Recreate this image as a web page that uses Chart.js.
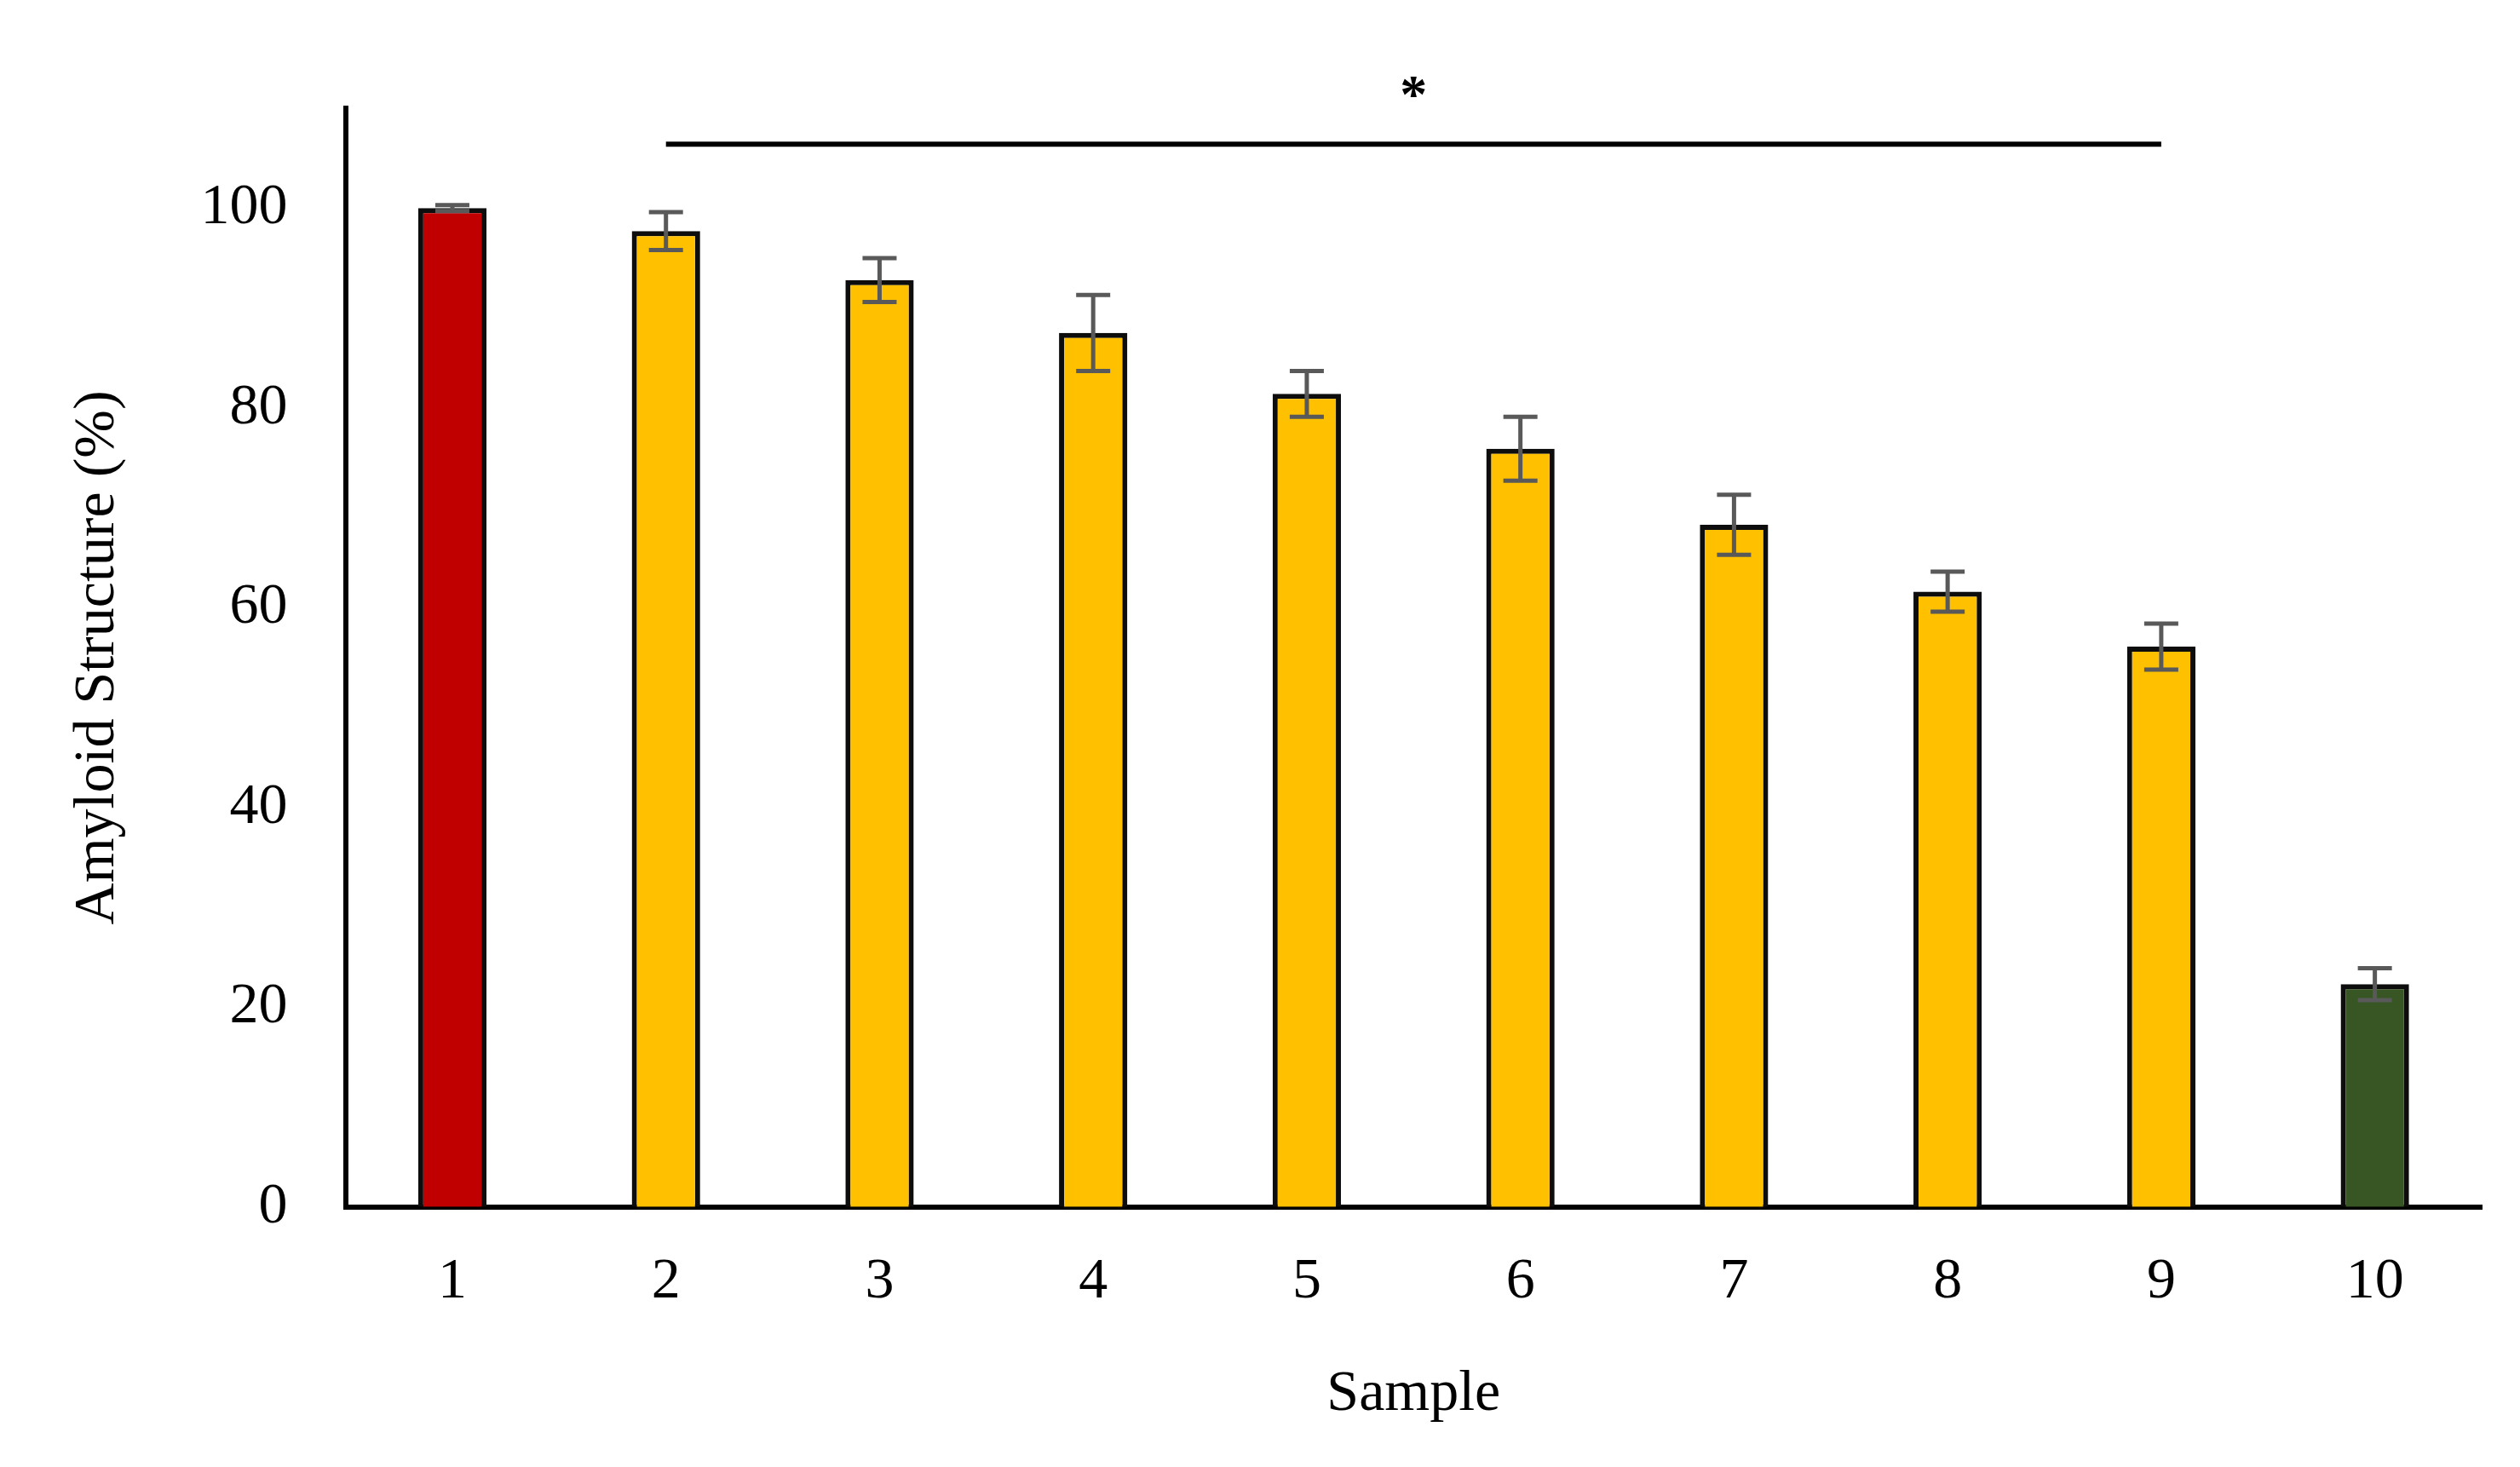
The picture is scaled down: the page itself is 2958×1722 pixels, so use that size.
<!DOCTYPE html>
<html>
<head>
<meta charset="utf-8">
<script src="https://cdn.jsdelivr.net/npm/chart.js@4"></script>
<style>
  html, body { margin: 0; padding: 0; background: #fff; }
  #wrap { width: 2958px; height: 1722px; }
</style>
</head>
<body>
<div id="wrap"><canvas id="myChart" width="2958" height="1722"></canvas></div>
<script>
const samples = ['1', '2', '3', '4', '5', '6', '7', '8', '9', '10'];
const amyloid = [100, 97.7, 92.8, 87.5, 81.4, 75.9, 68.3, 61.6, 56.1, 22.3];
const errors = [0.3, 1.9, 2.2, 3.8, 2.3, 3.2, 3.0, 2.0, 2.3, 1.6];
const barColors = ['#c00000', '#ffc000', '#ffc000', '#ffc000', '#ffc000', '#ffc000', '#ffc000', '#ffc000', '#ffc000', '#375623'];
const yTicks = [0, 20, 40, 60, 80, 100];
const sigFrom = 1, sigTo = 8, sigLevel = 106.4, sigLabel = '*';

const font = 'Liberation Serif';

// error bars plus the significance bracket
const extras = {
    id: 'extras',
    afterDatasetsDraw(chart) {
        const ctx = chart.ctx;
        const x = chart.scales.x, y = chart.scales.y;
        ctx.save();
        ctx.strokeStyle = '#595959';
        ctx.lineWidth = 5;
        amyloid.forEach((v, i) => {
            const cx = x.getPixelForValue(i);
            const top = y.getPixelForValue(v + errors[i]);
            const bot = y.getPixelForValue(v - errors[i]);
            ctx.beginPath();
            ctx.moveTo(cx, top); ctx.lineTo(cx, bot);
            ctx.moveTo(cx - 20, top); ctx.lineTo(cx + 20, top);
            ctx.moveTo(cx - 20, bot); ctx.lineTo(cx + 20, bot);
            ctx.stroke();
        });
        const ly = y.getPixelForValue(sigLevel);
        ctx.strokeStyle = '#000';
        ctx.lineWidth = 6;
        ctx.beginPath();
        ctx.moveTo(x.getPixelForValue(sigFrom), ly);
        ctx.lineTo(x.getPixelForValue(sigTo), ly);
        ctx.stroke();
        ctx.fillStyle = '#000';
        ctx.font = 'bold 64px "' + font + '"';
        ctx.textAlign = 'center';
        ctx.textBaseline = 'bottom';
        ctx.fillText(sigLabel, (x.getPixelForValue(sigFrom) + x.getPixelForValue(sigTo)) / 2, ly - 22);
        ctx.restore();
    }
};

const ctx = document.getElementById('myChart');
new Chart(ctx, {
    type: 'bar',
    data: {
        labels: samples,
        datasets: [{
            data: amyloid,
            backgroundColor: barColors,
            borderColor: '#0d0d0d',
            borderWidth: 6,
            borderSkipped: 'bottom',
            categoryPercentage: 1,
            barPercentage: 0.32
        }]
    },
    options: {
        responsive: false,
        animation: false,
        devicePixelRatio: 1,
        layout: { padding: { left: 70, right: 45, top: 127, bottom: 40 } },
        plugins: { legend: { display: false }, tooltip: { enabled: false } },
        scales: {
            x: {
                grid: { display: false },
                border: { display: true, color: '#000', width: 6 },
                ticks: { color: '#000', font: { family: font, size: 68 }, padding: 40 },
                title: { display: true, text: 'Sample', color: '#000', font: { family: font, size: 68 }, padding: { top: 10 } }
            },
            y: {
                min: 0,
                max: 110,
                afterBuildTicks: axis => { axis.ticks = yTicks.map(v => ({ value: v })); },
                grid: { display: false },
                border: { display: true, color: '#000', width: 6 },
                ticks: { color: '#000', font: { family: font, size: 68 }, padding: 60 },
                title: { display: true, text: 'Amyloid Structure (%)', color: '#000', font: { family: font, size: 68 }, padding: { bottom: 20 } }
            }
        }
    },
    plugins: [extras]
});
</script>
</body>
</html>
